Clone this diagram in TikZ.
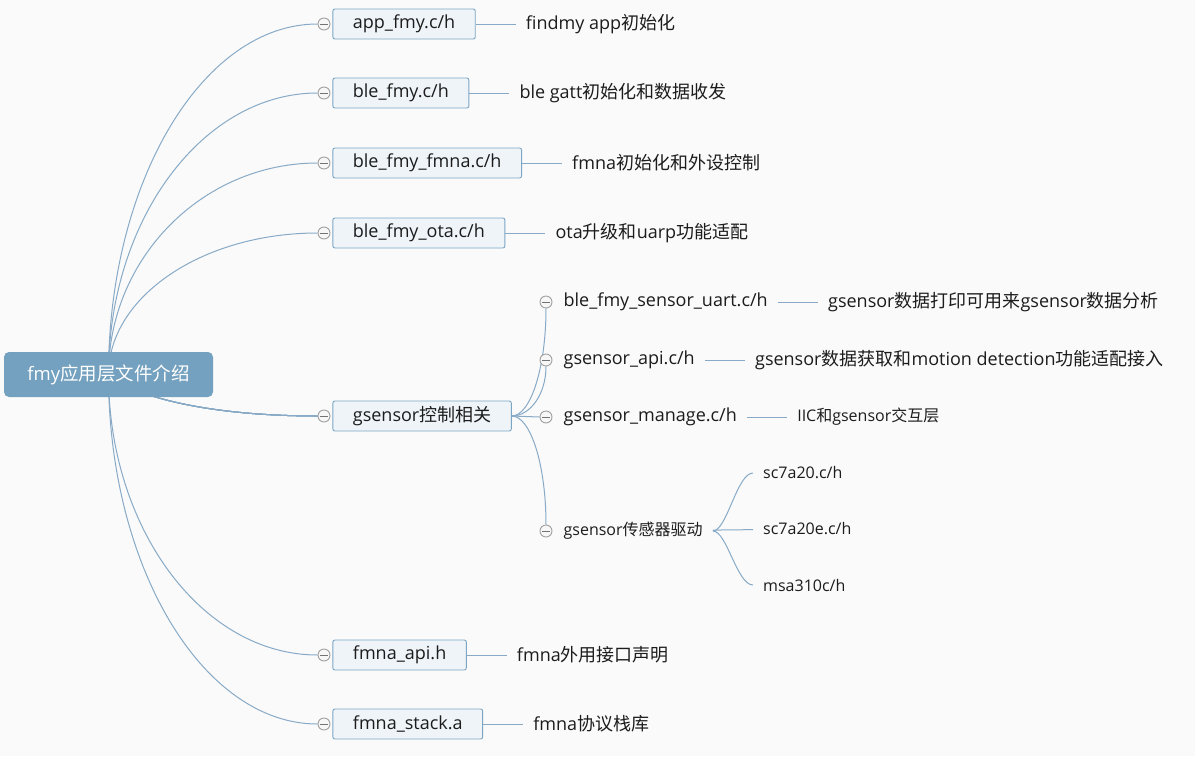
\documentclass[tikz,border=0pt]{standalone}
\usepackage{fontspec}
\setmainfont{Open Sans}
\newfontfamily\cjk{Noto Sans CJK SC}
\newcommand{\zh}[1]{{\cjk #1}}
\usetikzlibrary{positioning,calc,backgrounds}
\definecolor{mmbg}{HTML}{FAFAFB}
\definecolor{mmline}{HTML}{88AAC6}
\definecolor{mmroot}{HTML}{74A1BF}
\definecolor{mmborder}{HTML}{7CA5C4}
\definecolor{mmfill}{HTML}{EEF4F8}
\definecolor{mmfold}{HTML}{A0A0A0}
\definecolor{mmtext}{HTML}{1C1C1C}
\tikzset{
  mm/root/.style={fill=mmroot, rounded corners=5pt, minimum width=209pt, minimum height=45pt, text=white, font=\fontsize{18.5}{22}\selectfont},
  mm/topic/.style={draw=mmborder, fill=mmfill, line width=0.9pt, rounded corners=2pt, minimum height=30pt, inner xsep=20pt, text=mmtext, font=\fontsize{18}{22}\selectfont},
  mm/sub/.style={inner xsep=10pt, inner ysep=2pt, text=mmtext, font=\fontsize{18}{22}\selectfont},
  mm/small/.style={mm/sub, font=\fontsize{16}{20}\selectfont},
  mm/note/.style={mm/sub},
  mm/fold/.style={circle, draw=mmfold, fill=black!3, line width=0.9pt, minimum size=12pt, inner sep=0pt,
    path picture={\draw[black!55, line width=0.9pt] ([xshift=-4pt]path picture bounding box.center) -- ([xshift=4pt]path picture bounding box.center);}},
  mm/line/.style={draw=mmline, line width=1pt}
}
% root -> topic: leaves upright, arrives level
\newcommand{\mmarc}[2]{\draw[mm/line] let \p1=(#1), \p2=(#2) in (\p1) .. controls (\x1,{\y1+0.55*(\y2-\y1)}) and ({\x2-0.55*(\x2-\x1)},\y2) .. (\p2);}
% topic -> subtopic: leaves level, arrives upright
\newcommand{\mmfork}[2]{\draw[mm/line] let \p1=(#1), \p2=(#2) in (\p1) .. controls ({\x1+0.55*(\x2-\x1)},\y1) and (\x2,{\y2-0.55*(\y2-\y1)}) .. (\p2);}

\begin{document}
\begin{tikzpicture}[x=1pt, y=-1pt, node distance=40pt]
  \useasboundingbox (0,0) rectangle (1195,756);

  \node[mm/root] (root) at (108.5,374.5) {fmy\zh{应用层文件介绍}};

  % first level
  \node[mm/fold] (appc) at (324,24) {};
  \node[mm/topic, right=2pt of appc] (app) {app\_fmy.c/h};
  \node[mm/note, right=of app] (appn) {findmy app\zh{初始化}};

  \node[mm/fold] (blec) at (324,93) {};
  \node[mm/topic, right=2pt of blec] (ble) {ble\_fmy.c/h};
  \node[mm/note, right=of ble] (blen) {ble gatt\zh{初始化和数据收发}};

  \node[mm/fold] (fmnac) at (324,163) {};
  \node[mm/topic, right=2pt of fmnac] (fmna) {ble\_fmy\_fmna.c/h};
  \node[mm/note, right=of fmna] (fmnan) {fmna\zh{初始化和外设控制}};

  \node[mm/fold] (otac) at (324,233) {};
  \node[mm/topic, right=2pt of otac] (ota) {ble\_fmy\_ota.c/h};
  \node[mm/note, right=of ota] (otan) {ota\zh{升级和}uarp\zh{功能适配}};

  \node[mm/fold] (gsc) at (324,416) {};
  \node[mm/topic, right=2pt of gsc] (gs) {gsensor\zh{控制相关}};

  \node[mm/fold] (fapic) at (324,655) {};
  \node[mm/topic, right=2pt of fapic] (fapi) {fmna\_api.h};
  \node[mm/note, right=of fapi] (fapin) {fmna\zh{外用接口声明}};

  \node[mm/fold] (fstackc) at (324,724) {};
  \node[mm/topic, right=2pt of fstackc] (fstack) {fmna\_stack.a};
  \node[mm/note, right=of fstack] (fstackn) {fmna\zh{协议栈库}};

  % gsensor branch
  \node[mm/fold] (uartc) at (546,302) {};
  \node[mm/sub, right=1pt of uartc] (uart) {ble\_fmy\_sensor\_uart.c/h};
  \node[mm/note, right=of uart] (uartn) {gsensor\zh{数据打印可用来}gsensor\zh{数据分析}};

  \node[mm/fold] (apic) at (546,360) {};
  \node[mm/sub, right=1pt of apic] (api) {gsensor\_api.c/h};
  \node[mm/note, right=of api] (apin) {gsensor\zh{数据获取和}motion detection\zh{功能适配接入}};

  \node[mm/fold] (mngc) at (546,417) {};
  \node[mm/sub, right=1pt of mngc] (mng) {gsensor\_manage.c/h};
  \node[mm/small, right=of mng] (mngn) {IIC\zh{和}gsensor\zh{交互层}};

  \node[mm/fold] (drvc) at (546,531) {};
  \node[mm/small, right=1pt of drvc] (drv) {gsensor\zh{传感器驱动}};

  \node[mm/small, anchor=west] (sca) at (753,473) {sc7a20.c/h};
  \node[mm/small, anchor=west] (sce) at (753,529) {sc7a20e.c/h};
  \node[mm/small, anchor=west] (msa) at (753,585) {msa310c/h};

  \begin{scope}[on background layer]
    \fill[mmbg] (0,0) rectangle (1195,756);
    \foreach \t in {appc,blec,fmnac,otac,fapic,fstackc}
      \mmarc{root.center}{\t.west}
    \draw[mm/line] (root.center) .. controls +(25,22) and +(-110,0) .. (gsc.west);
    \foreach \t in {app,ble,fmna,ota,fapi,fstack}
      \draw[mm/line] (\t) -- (\t n);
    \mmfork{gs.east}{uartc.south}
    \mmfork{gs.east}{apic.south}
    \draw[mm/line] (gs.east) -- (mngc.west);
    \mmfork{gs.east}{drvc.north}
    \draw[mm/line] (uart) -- (uartn);
    \draw[mm/line] (api) -- (apin);
    \draw[mm/line] (mng) -- (mngn);
    \draw[mm/line] (drv.east) .. controls +(14,0) and +(-16,0) .. (sca.west);
    \draw[mm/line] (drv) -- (sce);
    \draw[mm/line] (drv.east) .. controls +(14,0) and +(-16,0) .. (msa.west);
  \end{scope}
\end{tikzpicture}
\end{document}
